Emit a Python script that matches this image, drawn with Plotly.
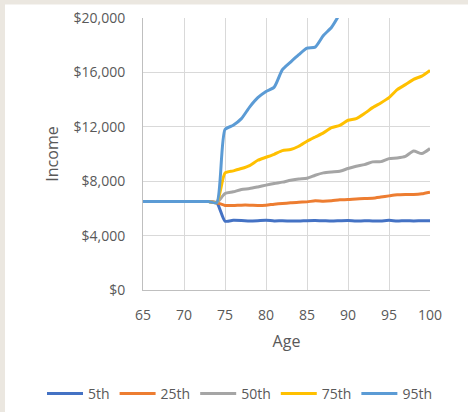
import plotly.graph_objects as go

ages = list(range(65, 101))

p5 = [6500]*9 + [6420, 5060, 5120, 5110, 5080, 5100, 5130, 5080, 5090, 5070, 5070, 5100, 5110, 5090, 5070, 5090, 5110,
                  5070, 5090, 5080, 5080, 5120, 5070, 5100, 5080, 5090, 5090]
p25 = [6500]*9 + [6420, 6220, 6210, 6240, 6240, 6220, 6240, 6310, 6360, 6410, 6460, 6480, 6560, 6530, 6560, 6630, 6650,
                   6700, 6730, 6750, 6830, 6920, 7000, 7020, 7020, 7070, 7190]
p50 = [6500]*9 + [6420, 7100, 7220, 7390, 7460, 7580, 7710, 7830, 7930, 8070, 8170, 8220, 8440, 8610, 8680, 8730, 8930,
                   9100, 9220, 9420, 9440, 9660, 9710, 9830, 10220, 10030, 10400]
p75 = [6500]*9 + [6420, 8600, 8760, 8930, 9150, 9540, 9760, 9980, 10250, 10330, 10570, 10940, 11250, 11550, 11940, 12110,
                   12480, 12600, 12970, 13410, 13750, 14140, 14730, 15100, 15490, 15730, 16150]
p95 = [6500]*9 + [6420, 11800, 12110, 12600, 13450, 14140, 14600, 14920, 16200, 16760, 17300, 17780, 17860, 18710, 19320,
                   20300, 21200]

series_names = ["5th", "25th", "50th", "75th", "95th"]
series_vals = [p5, p25, p50, p75, p95]
colors = ["#4472C4", "#ED7D31", "#A5A5A5", "#FFC000", "#5B9BD5"]

y_tickvals = [0, 4000, 8000, 12000, 16000, 20000]
y_ticktext = ["$0", "$4,000", "$8,000", "$12,000", "$16,000", "$20,000"]
x_tickvals = [65, 70, 75, 80, 85, 90, 95, 100]

fig = go.Figure()
for name, vals, c in zip(series_names, series_vals, colors):
    fig.add_trace(go.Scatter(
        x=ages[:len(vals)], y=vals, name=name, mode="lines",
        line=dict(color=c, width=3, shape="spline", smoothing=0.6),
    ))

FONT = "Open Sans, Segoe UI, sans-serif"
TXT = "#595959"

# white panel on beige paper
L, R, T, B = 143, 38, 17.5, 122
W, H = 468, 412
pw = W - L - R
ph = H - T - B
fig.add_shape(type="rect", xref="paper", yref="paper",
              x0=(5 - L) / pw, x1=(W + 5 - L) / pw,
              y0=(H - B - (H + 5)) / ph, y1=(H - B - 4) / ph,
              fillcolor="white", line=dict(width=0), layer="below")

fig.update_layout(
    width=W, height=H,
    margin=dict(l=L, r=R, t=T, b=B, pad=0, autoexpand=False),
    paper_bgcolor="#EBE7E0",
    plot_bgcolor="white",
    font=dict(family=FONT, size=14, color=TXT),
    showlegend=True,
    legend=dict(orientation="h", xref="paper", x=(42 - L) / pw, xanchor="left",
                yref="paper", y=(H - B - 394) / ph, yanchor="middle",
                font=dict(size=14, color=TXT), itemwidth=36, traceorder="normal",
                bgcolor="rgba(0,0,0,0)"),
)
fig.update_xaxes(range=[65, 100], tickvals=x_tickvals, showgrid=True, gridcolor="#D9D9D9", gridwidth=1,
                 showline=True, linecolor="#BFBFBF", linewidth=1, zeroline=False, automargin=False,
                 ticks="outside", ticklen=12, tickcolor="rgba(0,0,0,0)",
                 title=dict(text="Age", font=dict(size=16, color=TXT), standoff=13))
fig.update_yaxes(range=[0, 20000], tickvals=y_tickvals, ticktext=y_ticktext, showgrid=True, automargin=False,
                 gridcolor="#D9D9D9", gridwidth=1, showline=True, linecolor="#BFBFBF", linewidth=1,
                 zeroline=False, ticks="outside", ticklen=14, tickcolor="rgba(0,0,0,0)",
                 title=dict(text="Income", font=dict(size=16, color=TXT), standoff=10))

fig.write_html("out.html", config={"displayModeBar": False},
               post_script="document.body.style.margin='0px';document.body.style.padding='0px';")
